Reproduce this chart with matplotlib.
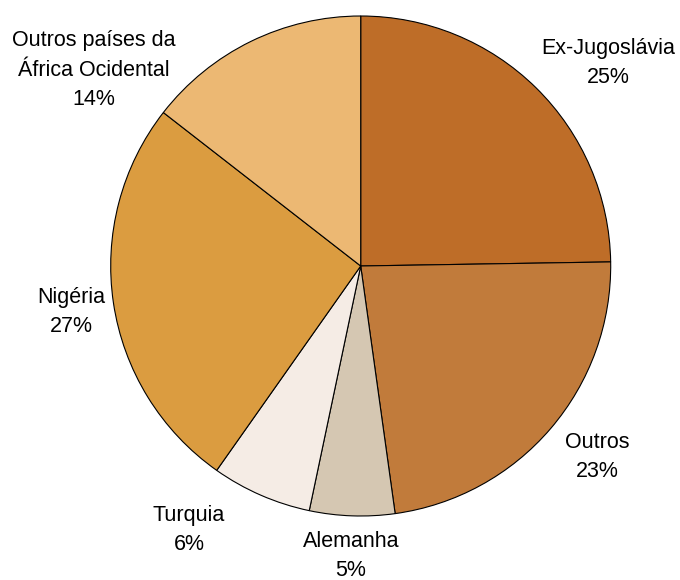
import numpy as np
import matplotlib.pyplot as plt

plt.rcParams['font.family'] = ['Liberation Sans', 'DejaVu Sans']

# slices, clockwise from 12 o'clock
labels = ['Ex-Jugoslávia', 'Outros', 'Alemanha', 'Turquia', 'Nigéria',
          'Outros países da\nÁfrica Ocidental']
shares = [24.74, 23.06, 5.5, 6.47, 25.75, 14.48]   # wedge sizes as drawn
pct_text = [25, 23, 5, 6, 27, 14]                   # printed percentages
colors = ['#BE6D28', '#C17B3B', '#D5C7B2', '#F5ECE5', '#DB9C40', '#ECB873']

# label centres in pixel space (x, y from top)
label_xy = [(608, 63), (597, 457), (351, 556), (189, 530), (71, 312), (94, 70)]

W, H = 680, 580
fig = plt.figure(figsize=(W / 100, H / 100), dpi=100)
ax = fig.add_axes([0, 0, 1, 1])

cx, cy, r = 360.7, H - 266, 250
ax.pie(shares, colors=colors, startangle=90, counterclock=False,
       center=(cx, cy), radius=r, frame=True,
       wedgeprops=dict(edgecolor='black', linewidth=0.8))
ax.set_xlim(0, W)
ax.set_ylim(0, H)
ax.set_aspect('equal')
ax.axis('off')

for lab, p, (x, y) in zip(labels, pct_text, label_xy):
    ax.text(x, H - y, f'{lab}\n{p}%', ha='center', va='center',
            fontsize=15.5, linespacing=1.55, color='black')

fig.savefig('out.png', dpi=100)
